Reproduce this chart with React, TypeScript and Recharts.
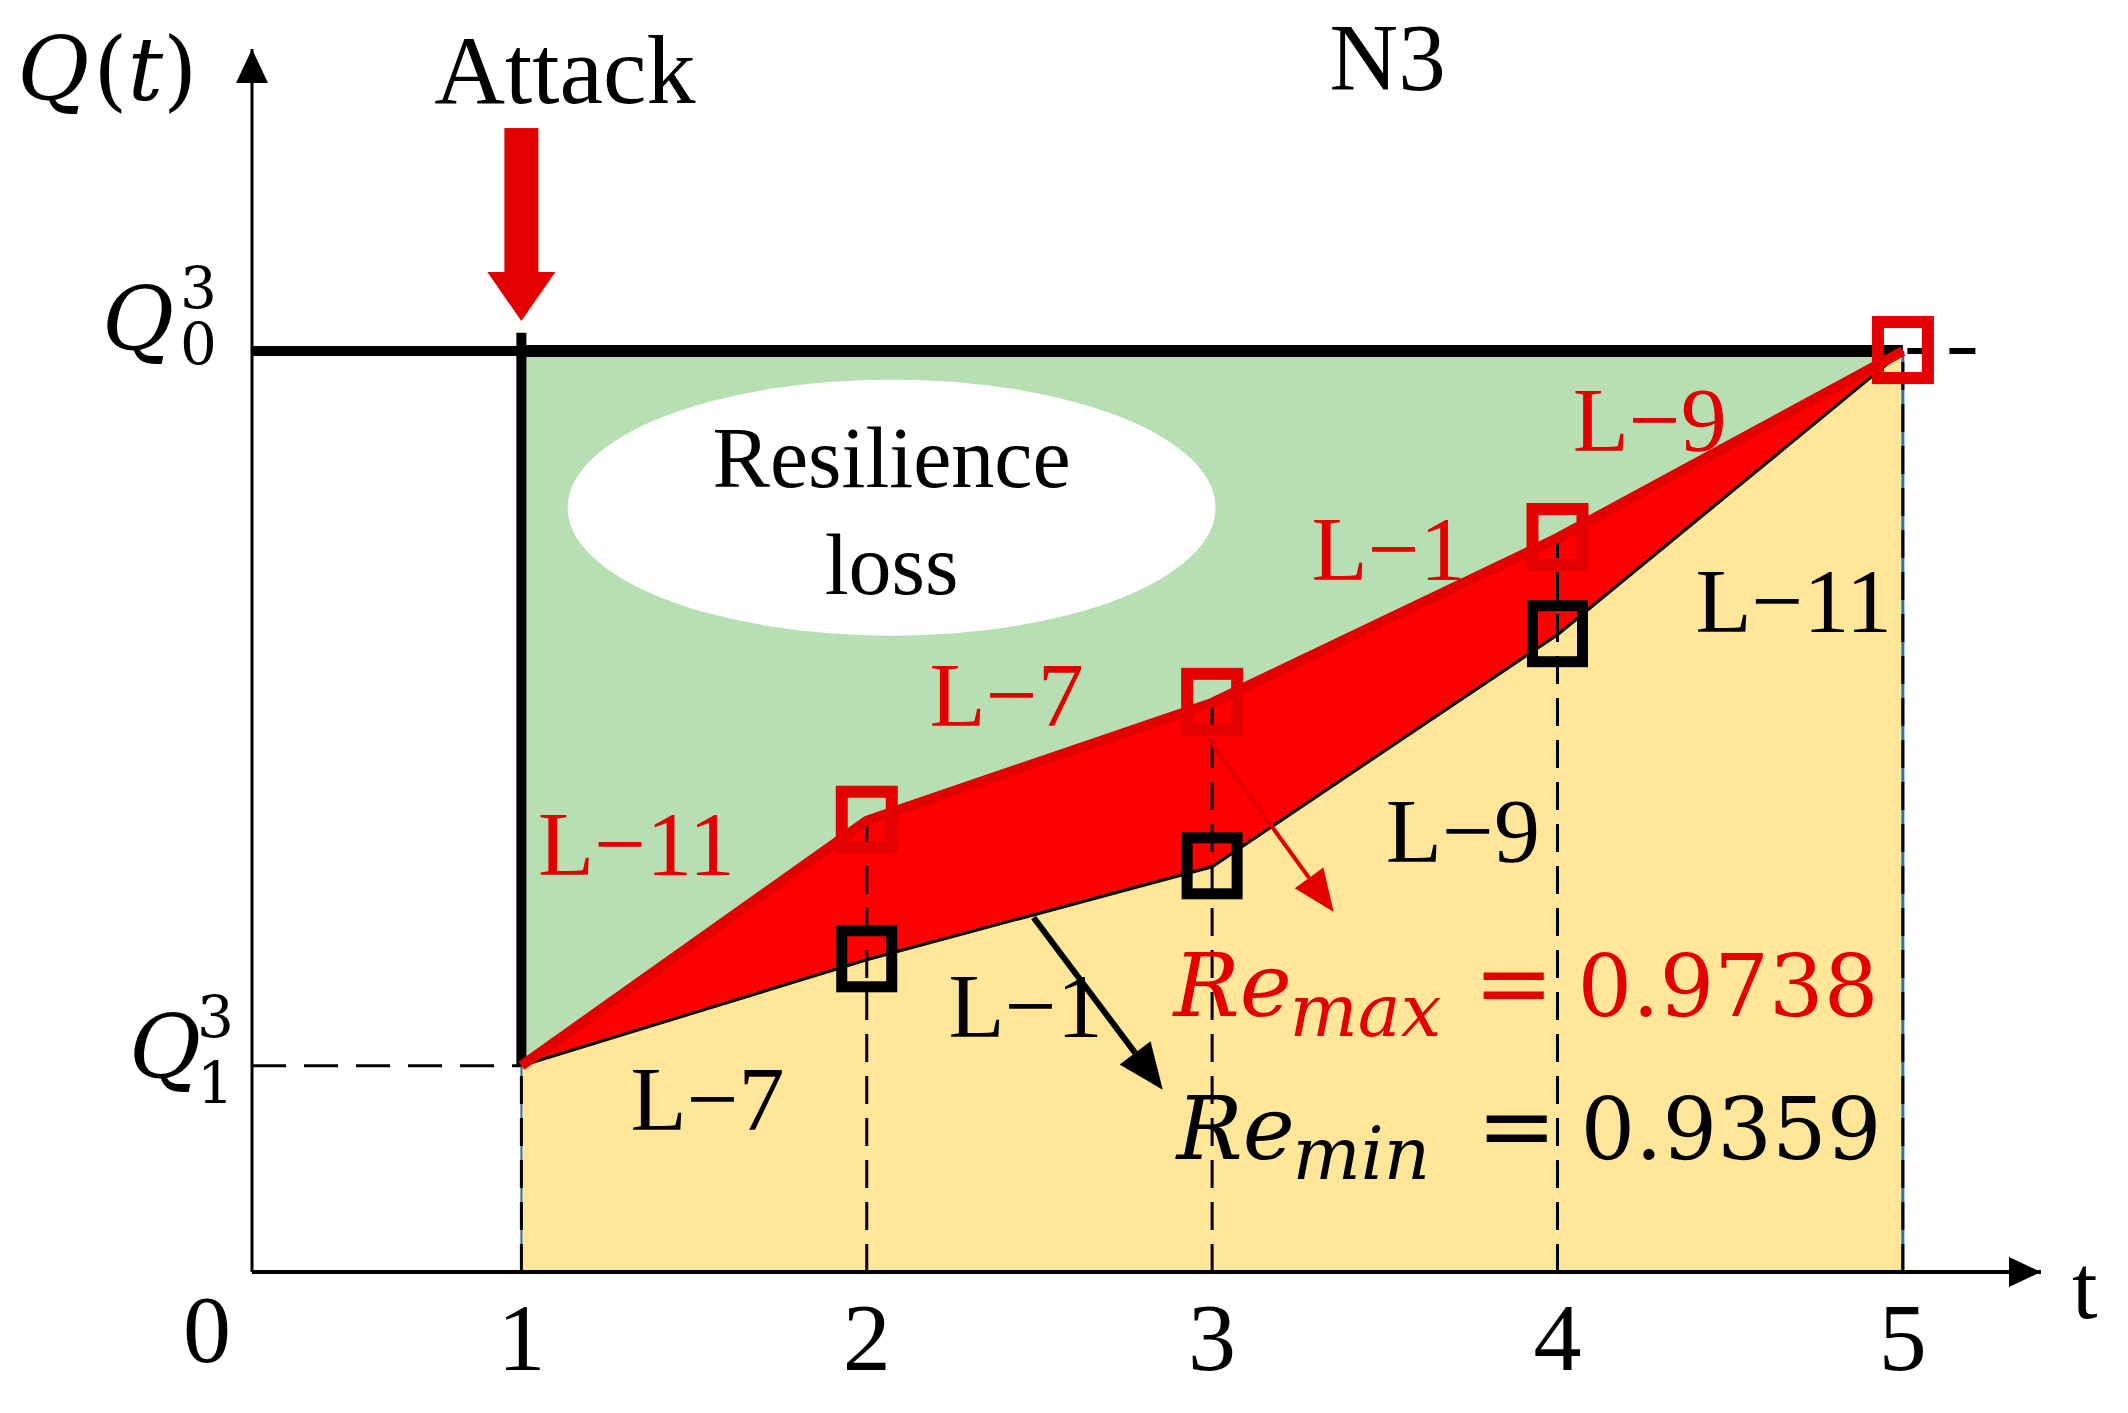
import React from 'react';
import { ComposedChart, Area, Line, XAxis, YAxis, ReferenceLine, ReferenceDot } from 'recharts';

// time steps and recovery curves (Q normalised so that Q0 = 1)
const T_STEPS = [1, 2, 3, 4, 5];
const Q_MAX = [0.224, 0.49, 0.618, 0.797, 1];
const Q_MIN = [0.224, 0.339, 0.44, 0.692, 1];
const Q0 = 1;
const Q1 = 0.224;
const X_TICKS = [1, 2, 3, 4, 5];
const Y_TICKS = [Q1, Q0];
const MAX_LINKS = ['L−11', 'L−7', 'L−1', 'L−9'];
const MIN_LINKS = ['L−7', 'L−1', 'L−9', 'L−11'];
const RE_MAX = '0.9738';
const RE_MIN = '0.9359';

// label anchors (data units)
const MAX_LINK_POS = [
  { t: 1.333, q: 0.431 },
  { t: 2.405, q: 0.593 },
  { t: 3.511, q: 0.751 },
  { t: 4.267, q: 0.891 },
];
const MIN_LINK_POS = [
  { t: 1.539, q: 0.154 },
  { t: 2.46, q: 0.255 },
  { t: 3.726, q: 0.445 },
  { t: 4.684, q: 0.695 },
];

const T_MIN = 0.22;
const T_MAX = 5.4;
const Q_TOP = 1.328;

const TIMES = '"Liberation Serif", "Times New Roman", serif';
const MATH = '"DejaVu Serif", serif';
const RED = '#e30000';
const GREEN = '#b8dfb3';
const YELLOW = '#ffe699';

const rows = T_STEPS.map((t, i) => ({
  t,
  base: [0, Q_MIN[i]],
  band: [Q_MIN[i], Q_MAX[i]],
  loss: [Q_MAX[i], Q0],
  qMax: Q_MAX[i],
  qMin: Q_MIN[i],
  q0: Q0,
}));

const square = (color: string, size: number, sw: number) => (p: any) => {
  if (p.index === 0 || p.cx == null) return <g key={`s-${color}-${p.index}`} />;
  return (
    <rect
      key={`s-${color}-${p.index}`}
      x={p.cx - size / 2}
      y={p.cy - size / 2 - 4}
      width={size}
      height={size + 6}
      fill="none"
      stroke={color}
      strokeWidth={sw}
    />
  );
};

const arrowShape = (color: string, width: number, head: number) => (p: any) => {
  const { x1, y1, x2, y2 } = p;
  const a = Math.atan2(y2 - y1, x2 - x1);
  const bx = x2 - head * Math.cos(a);
  const by = y2 - head * Math.sin(a);
  const nx = -Math.sin(a) * head * 0.42;
  const ny = Math.cos(a) * head * 0.42;
  return (
    <g>
      <line x1={x1} y1={y1} x2={bx} y2={by} stroke={color} strokeWidth={width} />
      <polygon points={`${x2},${y2} ${bx + nx},${by + ny} ${bx - nx},${by - ny}`} fill={color} />
    </g>
  );
};

const XTick = ({ x, y, payload }: any) => (
  <text x={x} y={y + 98} textAnchor="middle" fontSize={96} fontFamily={TIMES} fill="#000">
    {payload.value}
  </text>
);

const YTick = ({ x, y, payload }: any) => {
  const top = payload.value === Q0;
  const sub = top ? '0' : '1';
  const qx = top ? x - 150 : x - 123;
  const qy = top ? y - 1 : y + 12;
  const sx = top ? x - 72 : x - 55;
  const supY = top ? y - 43 : y - 29;
  const subY = top ? y + 13 : y + 37;
  return (
    <text fill="#000" fontFamily={MATH}>
      <tspan x={qx} y={qy} fontSize={88} fontStyle="italic">Q</tspan>
      <tspan x={sx} y={supY} fontSize={58}>3</tspan>
      <tspan x={sx} y={subY} fontSize={58}>{sub}</tspan>
    </text>
  );
};

const textAt = (txt: string, color: string, size: number, anchor = 'middle', family = TIMES) => (p: any) => (
  <text x={p.cx} y={p.cy} textAnchor={anchor} fontSize={size} fontFamily={family} fill={color}>
    {txt}
  </text>
);

const reShape = (sub: string, val: string, color: string) => (p: any) => (
  <text x={p.cx} y={p.cy} fontFamily={MATH} fill={color} fontSize={88}>
    <tspan fontStyle="italic">Re</tspan>
    <tspan x={p.cx + 116} dy={20} fontStyle="italic" fontSize={72}>{sub}</tspan>
    <tspan x={p.cx + 300} dy={-20} fontSize={96}>=</tspan>
    <tspan x={p.cx + 404} fontSize={86}>{val}</tspan>
  </text>
);

export default function App() {
  return (
    <div style={{ position: 'absolute', left: 0, top: 0, width: 2128, height: 1413, background: '#fff' }}>
      <ComposedChart
        width={2128}
        height={1413}
        data={rows}
        margin={{ top: 49, right: 87, bottom: 21, left: 92 }}
      >
        <XAxis
          dataKey="t"
          type="number"
          domain={[T_MIN, T_MAX]}
          ticks={X_TICKS}
          tick={<XTick />}
          tickLine={false}
          tickSize={0}
          tickMargin={0}
          height={120}
          axisLine={{ stroke: '#000', strokeWidth: 4 }}
          allowDataOverflow
        />
        <YAxis
          type="number"
          domain={[0, Q_TOP]}
          ticks={Y_TICKS}
          tick={<YTick />}
          tickLine={false}
          tickSize={0}
          tickMargin={0}
          width={160}
          axisLine={{ stroke: '#000', strokeWidth: 3 }}
          allowDataOverflow
        />

        <Area dataKey="loss" type="linear" fill={GREEN} fillOpacity={1} stroke="none" isAnimationActive={false} />
        <Area dataKey="band" type="linear" fill="#ff0000" fillOpacity={1} stroke="none" isAnimationActive={false} />
        <Area dataKey="base" type="linear" fill={YELLOW} fillOpacity={1} stroke="none" isAnimationActive={false} />

        {/* guides */}
        <ReferenceLine segment={[{ x: T_MIN, y: Q1 }, { x: 1, y: Q1 }]} stroke="#000" strokeWidth={3} strokeDasharray="34 18" />
        <ReferenceLine segment={[{ x: 1, y: 0 }, { x: 1, y: Q1 }]} stroke="#2e6fb7" strokeWidth={2} />
        <ReferenceLine segment={[{ x: 1, y: 0 }, { x: 1, y: Q1 }]} stroke="#000" strokeWidth={3} strokeDasharray="28 14" />
        <ReferenceLine segment={[{ x: 5, y: 0 }, { x: 5, y: Q0 }]} stroke="#2e6fb7" strokeWidth={3} />
        <ReferenceLine segment={[{ x: 5, y: 0 }, { x: 5, y: Q0 }]} stroke="#000" strokeWidth={3} strokeDasharray="28 14" />
        {T_STEPS.slice(1, 4).map((t, i) => (
          <ReferenceLine
            key={`v${t}`}
            segment={[{ x: t, y: 0 }, { x: t, y: Q_MAX[i + 1] }]}
            stroke="#000"
            strokeWidth={3}
            strokeDasharray="28 14"
          />
        ))}
        <ReferenceLine segment={[{ x: 1, y: Q0 }, { x: 5.21, y: Q0 }]} stroke="#000" strokeWidth={6} strokeDasharray="26 16" />
        <ReferenceLine segment={[{ x: T_MIN, y: Q0 }, { x: 1, y: Q0 }]} stroke="#000" strokeWidth={10} />
        <ReferenceLine segment={[{ x: 1, y: Q1 }, { x: 1, y: Q0 + 0.02 }]} stroke="#000" strokeWidth={10} />

        <Line dataKey="q0" type="linear" stroke="#000" strokeWidth={12} dot={false} isAnimationActive={false} />
        <Line dataKey="qMin" type="linear" stroke="#000" strokeWidth={3} dot={square('#000', 50, 11)} isAnimationActive={false} />
        <Line dataKey="qMax" type="linear" stroke={RED} strokeWidth={10} dot={square(RED, 50, 12)} isAnimationActive={false} />

        {/* axis arrow heads */}
        <ReferenceDot
          x={T_MIN}
          y={Q_TOP}
          ifOverflow="visible"
          shape={(p: any) => <polygon points={`${p.cx},${p.cy} ${p.cx - 16},${p.cy + 34} ${p.cx + 16},${p.cy + 34}`} fill="#000" />}
        />
        <ReferenceDot
          x={T_MAX}
          y={0}
          ifOverflow="visible"
          shape={(p: any) => <polygon points={`${p.cx},${p.cy} ${p.cx - 32},${p.cy - 15} ${p.cx - 32},${p.cy + 15}`} fill="#000" />}
        />

        {/* attack arrow */}
        <ReferenceDot
          x={1}
          y={Q0}
          ifOverflow="visible"
          shape={(p: any) => (
            <g fill={RED}>
              <rect x={p.cx - 17} y={p.cy - 223} width={34} height={146} />
              <polygon points={`${p.cx - 34},${p.cy - 79} ${p.cx + 34},${p.cy - 79} ${p.cx},${p.cy - 30}`} />
            </g>
          )}
        />

        {/* resilience loss bubble */}
        <ReferenceDot
          x={2.072}
          y={0.83}
          ifOverflow="visible"
          shape={(p: any) => (
            <g>
              <ellipse cx={p.cx} cy={p.cy} rx={324} ry={128} fill="#fff" />
              <text x={p.cx} y={p.cy - 21} textAnchor="middle" fontSize={86} fontFamily={TIMES} fill="#000">Resilience</text>
              <text x={p.cx} y={p.cy + 86} textAnchor="middle" fontSize={86} fontFamily={TIMES} fill="#000">loss</text>
            </g>
          )}
        />

        {MAX_LINKS.map((l, i) => (
          <ReferenceDot key={`ml${i}`} x={MAX_LINK_POS[i].t} y={MAX_LINK_POS[i].q} ifOverflow="visible" shape={textAt(l, RED, 92)} />
        ))}
        {MIN_LINKS.map((l, i) => (
          <ReferenceDot key={`nl${i}`} x={MIN_LINK_POS[i].t} y={MIN_LINK_POS[i].q} ifOverflow="visible" shape={textAt(l, '#000', 92)} />
        ))}

        <ReferenceLine segment={[{ x: 2.987, y: 0.58 }, { x: 3.352, y: 0.391 }]} shape={arrowShape(RED, 4, 42)} />
        <ReferenceLine segment={[{ x: 2.483, y: 0.385 }, { x: 2.857, y: 0.198 }]} shape={arrowShape('#000', 6, 46)} />

        <ReferenceDot x={2.888} y={0.278} ifOverflow="visible" shape={reShape('max', RE_MAX, RED)} />
        <ReferenceDot x={2.897} y={0.123} ifOverflow="visible" shape={reShape('min', RE_MIN, '#000')} />

        {/* titles and axis names */}
        <ReferenceDot x={0.748} y={1.269} ifOverflow="visible" shape={textAt('Attack', '#000', 98, 'start')} />
        <ReferenceDot x={3.34} y={1.284} ifOverflow="visible" shape={textAt('N3', '#000', 95, 'start')} />
        <ReferenceDot
          x={-0.46}
          y={1.273}
          ifOverflow="visible"
          shape={(p: any) => (
            <text x={p.cx} y={p.cy} fontSize={88} fontFamily={MATH} fill="#000">
              <tspan fontStyle="italic">Q</tspan>
              <tspan dx={4}>(</tspan>
              <tspan fontStyle="italic">t</tspan>
              <tspan>)</tspan>
            </text>
          )}
        />
        <ReferenceDot x={5.49} y={-0.05} ifOverflow="visible" shape={textAt('t', '#000', 92, 'start')} />
        <ReferenceDot x={0.09} y={-0.098} ifOverflow="visible" shape={textAt('0', '#000', 96)} />
      </ComposedChart>
    </div>
  );
}
